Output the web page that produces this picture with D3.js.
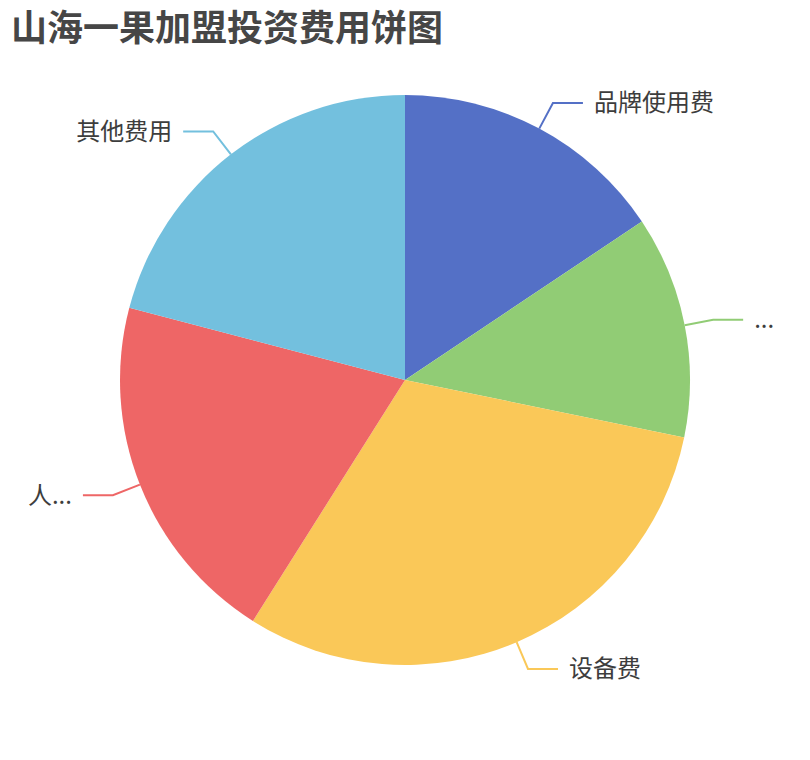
<!DOCTYPE html>
<html>
<head>
<meta charset="utf-8">
<script src="https://cdn.jsdelivr.net/npm/d3@7"></script>
<style>
  body { margin: 0; background: #fff; }
  #chart { position: relative; }
  #title {
    position: absolute; left: 11px; top: 7px;
    font-family: "Noto Sans CJK SC", "Noto Sans", sans-serif;
    font-size: 36px; line-height: 36px; font-weight: bold; color: #464646;
    white-space: nowrap;
  }
  svg text { font-family: "Noto Sans CJK SC", "Noto Sans", sans-serif; }
</style>
</head>
<body>
<div id="chart"><div id="title"></div></div>
<script>
// data
var title = "山海一果加盟投资费用饼图";
var categories = ["品牌使用费", "装修费", "设备费", "人员工资", "其他费用"];
var values = [15.6, 12.6, 30.7, 20.1, 20.9];
var colors = ["#5470c6", "#91cc75", "#fac858", "#ee6666", "#73c0de"];

var width = 810, height = 760;
var cx = 405, cy = 380, radius = 285;
var len1 = 29, len2 = 30, gap = 11, edge = 25;

d3.select("#title").text(title);

var svg = d3.select("#chart").append("svg")
  .attr("width", width)
  .attr("height", height)
  .style("display", "block");

var pie = d3.pie().sort(null).value(function(d) { return d; });
var arc = d3.arc().innerRadius(0).outerRadius(radius);
var arcs = pie(values);

var g = svg.append("g").attr("transform", "translate(" + cx + "," + cy + ")");

g.selectAll("path.slice")
  .data(arcs)
  .enter().append("path")
  .attr("class", "slice")
  .attr("d", arc)
  .attr("fill", function(d, i) { return colors[i]; });

// labels with two-segment lines
arcs.forEach(function(d, i) {
  var a = (d.startAngle + d.endAngle) / 2;
  var dx = Math.sin(a), dy = -Math.cos(a);
  var p1 = [radius * dx, radius * dy];
  var p2 = [(radius + len1) * dx, (radius + len1) * dy];
  var right = dx >= 0;
  var p3 = [p2[0] + (right ? len2 : -len2), p2[1]];

  g.append("polyline")
    .attr("points", [p1, p2, p3].map(function(p) { return p.join(","); }).join(" "))
    .attr("fill", "none")
    .attr("stroke", colors[i])
    .attr("stroke-width", 2);

  var tx = p3[0] + (right ? gap : -gap);
  var t = g.append("text")
    .attr("x", tx)
    .attr("y", p3[1])
    .attr("dy", "0.35em")
    .attr("text-anchor", right ? "start" : "end")
    .attr("font-size", 24)
    .attr("fill", "#3d3d3d")
    .text(categories[i]);

  // truncate like the original when the label runs off the page
  var avail = right ? (width - (cx + tx) - edge) : (cx + tx - edge);
  var name = categories[i];
  if (t.node().getComputedTextLength() > avail) {
    var n = name.length;
    while (n > 0) {
      n--;
      t.text(name.slice(0, n) + "...");
      if (t.node().getComputedTextLength() <= avail) break;
    }
  }
});
</script>
</body>
</html>
